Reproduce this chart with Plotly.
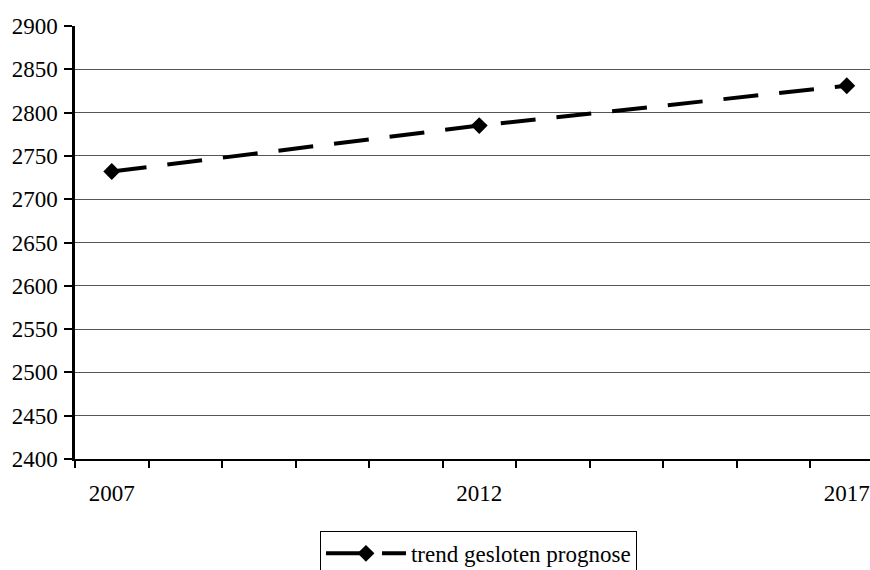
import plotly.graph_objects as go

# Forecast trend values (years with a known value)
years = [2007, 2012, 2017]
values = [2732, 2785, 2831]

label_years = [2007, 2012, 2017]
y_ticks = list(range(2400, 2901, 50))
series_name = "trend gesloten prognose"

font_family = "Liberation Serif, Times New Roman, serif"

fig = go.Figure()
fig.add_trace(go.Scatter(
    x=years,
    y=values,
    mode="lines+markers",
    name=series_name,
    line=dict(color="black", width=4, dash="35px,21px"),
    marker=dict(symbol="diamond", size=13, color="black"),
))

fig.update_layout(
    width=870,
    height=570,
    margin=dict(l=75, r=0, t=26, b=111, autoexpand=False),
    paper_bgcolor="white",
    plot_bgcolor="white",
    font=dict(family=font_family, size=23, color="black"),
    showlegend=True,
    legend=dict(
        orientation="h",
        x=0.5075,
        xanchor="center",
        y=-0.166,
        yanchor="top",
        itemwidth=80,
        bordercolor="black",
        borderwidth=1,
        bgcolor="white",
        font=dict(family=font_family, size=23, color="black"),
    ),
)

fig.update_xaxes(
    range=[2006.5, 2017.316],
    tickmode="array",
    tickvals=label_years,
    ticktext=[str(y) for y in label_years],
    ticks="",
    ticklabelstandoff=12,
    automargin=False,
    showgrid=False,
    zeroline=False,
    showline=True,
    linecolor="black",
    linewidth=2,
    minor=dict(
        tickmode="array",
        tickvals=[y + 0.5 for y in range(2006, 2017)],
        ticks="outside",
        ticklen=7,
        tickwidth=2,
        tickcolor="black",
        showgrid=False,
    ),
)

fig.update_yaxes(
    range=[2400, 2900],
    tickmode="array",
    tickvals=y_ticks,
    ticks="outside",
    ticklen=8,
    tickwidth=2,
    tickcolor="black",
    ticklabelstandoff=2,
    automargin=False,
    showgrid=True,
    gridcolor="#555555",
    gridwidth=1,
    zeroline=False,
    showline=True,
    linecolor="black",
    linewidth=2.5,
)

fig.write_html("out.html")
